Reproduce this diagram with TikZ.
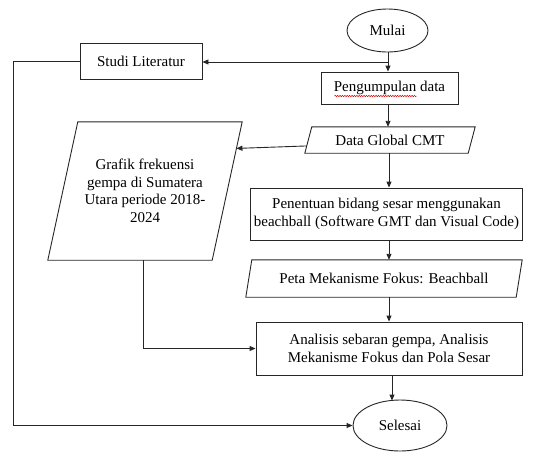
\documentclass[tikz,border=0pt]{standalone}
\usepackage{fontspec}
\setmainfont{Liberation Serif}
\usetikzlibrary{shapes.geometric,arrows.meta,calc,decorations.pathmorphing}
\newcommand{\paraframe}[2]{%
  \coordinate (#1-bl) at (#1.south west);
  \coordinate (#1-tl) at ($(#1.north west)+(#2,0)$);
  \coordinate (#1-tr) at (#1.north east);
  \coordinate (#1-br) at ($(#1.south east)+(-#2,0)$);
  \draw[frame] (#1-bl) -- (#1-tl) -- (#1-tr) -- (#1-br) -- cycle;}
\begin{document}
\begin{tikzpicture}[x=1pt,y=-1pt,
  font=\fontsize{15}{17.5}\selectfont,
  frame/.style={line width=0.9pt, draw=black!85},
  box/.style={frame, rectangle, align=center, inner sep=2pt},
  term/.style={frame, ellipse, inner sep=1pt},
  para/.style={rectangle, draw=none, align=center, inner sep=1pt},
  arr/.style={draw=black!85, line width=0.9pt, -{Triangle[length=6pt,width=5pt]}},
  squig/.style={draw=red!85!black, line width=0.5pt, decorate, decoration={snake, amplitude=0.7pt, segment length=2.4pt}}
  ]
\useasboundingbox (0,0) rectangle (541,451);
\node[term, minimum width=81pt, minimum height=43pt] (mulai) at (387.5,30.5) {Mulai};
\node[box, minimum width=122pt, minimum height=36pt] (studi) at (141,61) {Studi Literatur};
\node[box, minimum width=137pt, minimum height=32pt] (peng) at (389.5,88) {Pengumpulan data};
\node[para, minimum width=170pt, minimum height=26pt] (dgc) at (390,140) {Data Global CMT};
\paraframe{dgc}{7}
\node[para, minimum width=194pt, minimum height=138pt] (grafik) at (145,191) {Grafik frekuensi\\gempa di Sumatera\\Utara periode 2018-\\2024};
\paraframe{grafik}{30}
\node[box, minimum width=272pt, minimum height=52pt] (pen) at (386.5,214) {Penentuan bidang sesar menggunakan\\beachball (Software GMT dan Visual Code)};
\node[para, minimum width=276pt, minimum height=37pt] (peta) at (384,278.5) {Peta Mekanisme Fokus: Beachball};
\paraframe{peta}{6}
\node[box, minimum width=266pt, minimum height=53pt] (ana) at (389,348.5) {Analisis sebaran gempa, Analisis\\Mekanisme Fokus dan Pola Sesar};
\node[term, minimum width=94pt, minimum height=51pt] (sel) at (400,425.5) {Selesai};

% spell-check squiggle under "Pengumpulan"
\coordinate (sq1) at ($(peng.center)+(-55,8)$);
\coordinate (sq2) at ($(peng.center)+(27,8)$);
\draw[squig] (sq1) -- (sq2);

\coordinate (m1) at (388,0);
\draw[arr] (mulai.south -| m1) -- (peng.north -| m1);
\coordinate (j1) at ($(mulai.south -| m1)!0.5!(peng.north -| m1)$);
\draw[arr] (j1) -- (j1 -| studi.east);
\draw[arr] (peng.south -| m1) -- (dgc.north -| m1);
\coordinate (d0) at ($(dgc.center)+(0,3)$);
\coordinate (d1) at (intersection of dgc-bl--dgc-tl and d0--dgc.east);
\coordinate (g1) at (intersection of grafik-tr--grafik-br and d0--dgc.east);
\draw[arr] (d1) -- (g1);
\coordinate (m2) at (389,0);
\draw[arr] (dgc.south -| m2) -- (pen.north -| m2);
\draw[arr] (pen.south -| m2) -- (peta.north -| m2);
\draw[arr] (peta.south -| m2) -- (ana.north -| m2);
\coordinate (m3) at (392,0);
\draw[arr] (ana.south -| m3) -- ($(sel.north -| m3)+(0,1)$);
\coordinate (g2) at ($(grafik-bl)!0.58!(grafik-br)$);
\draw[arr] (g2) |- (ana.west);
\coordinate (lx) at (13,0);
\draw[arr] (studi.west) -- (studi.west -| lx) |- (sel.west);
\end{tikzpicture}
\end{document}
